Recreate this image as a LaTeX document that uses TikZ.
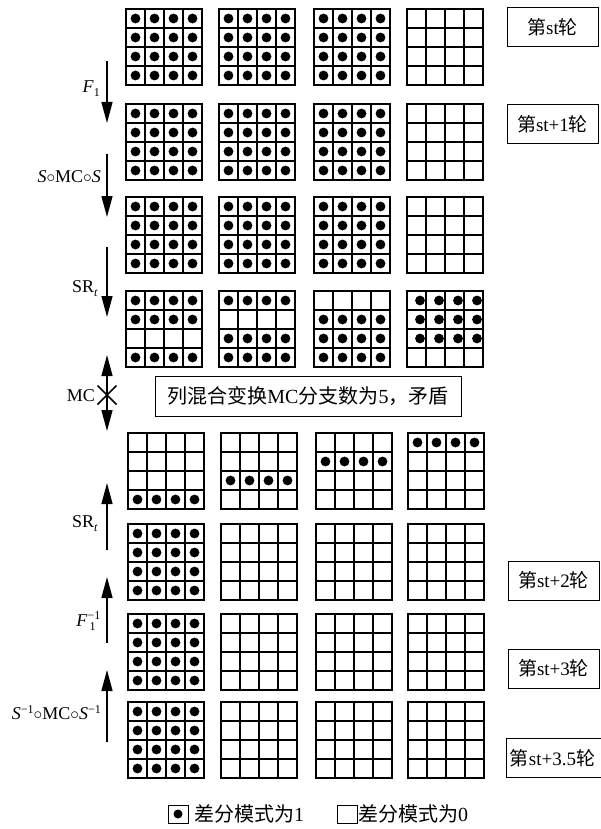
\documentclass[tikz,border=0pt]{standalone}
\usepackage{fontspec}
\setmainfont{Liberation Serif}
\newfontfamily\cjk{Noto Sans CJK SC}
\usetikzlibrary{arrows.meta}
\tikzset{
  cellline/.style={line width=1.6pt},
  lab/.style={draw, line width=1pt, minimum width=91pt, minimum height=39pt, inner sep=0pt, font=\fontsize{19}{21}\selectfont},
  flow/.style={line width=1.4pt, -{Triangle[length=21pt,width=11pt]}},
  txt/.style={font=\fontsize{18}{20}\selectfont, inner sep=0pt},
  bigtxt/.style={font=\fontsize{20}{22}\selectfont, inner sep=0pt},
}
\newcommand\smalltx[1]{\mbox{\fontsize{12}{12}\selectfont #1}}
\newcommand\dgrid[5]{%
  \node[draw, line width=1.6pt, minimum size=76pt, inner sep=0pt] (#1) at (#2+38,#3+38) {};
  \foreach \k in {1,2,3} {
    \draw[cellline] (#2+19*\k,#3) -- (#2+19*\k,#3+76);
    \draw[cellline] (#2,#3+19*\k) -- (#2+76,#3+19*\k);
  }
  \foreach \r in {#4} {
    \ifnum\r>0
      \foreach \c in {1,...,4} { \fill (#2+19*\c-9.5+#5, #3+19*\r-9.5) circle (4.9pt); }
    \fi
  }
}
\begin{document}
\begin{tikzpicture}[x=1pt,y=-1pt]
\useasboundingbox (0,0) rectangle (600,829);
% rows 1-3
\foreach \yy/\nm in {9/a,104/b,197/c} {
  \dgrid{\nm1}{126}{\yy}{1,2,3,4}{0}
  \dgrid{\nm2}{219}{\yy}{1,2,3,4}{0}
  \dgrid{\nm3}{314}{\yy}{1,2,3,4}{0}
  \dgrid{\nm4}{407}{\yy}{0}{0}
}
% row 4
\dgrid{d1}{126}{291}{1,2,4}{0}
\dgrid{d2}{219}{291}{1,3,4}{0}
\dgrid{d3}{314}{291}{2,3,4}{0}
\dgrid{d4}{407}{291}{1,2,3}{3.5}
% row 5
\dgrid{e1}{128}{433}{4}{0}
\dgrid{e2}{221}{433}{3}{0}
\dgrid{e3}{316}{433}{2}{0}
\dgrid{e4}{408}{433}{1}{0}
% rows 6-8
\foreach \yy/\nm in {524/f,614/g,702/h} {
  \dgrid{\nm1}{128}{\yy}{1,2,3,4}{0}
  \dgrid{\nm2}{221}{\yy}{0}{0}
  \dgrid{\nm3}{316}{\yy}{0}{0}
  \dgrid{\nm4}{408}{\yy}{0}{0}
}
% round labels
\node[lab] (r1) at (552.5,27.5) {{\cjk 第}st{\cjk 轮}};
\node[lab] (r2) at (552.5,124) {{\cjk 第}st+1{\cjk 轮}};
\node[lab] (r3) at (553.5,580.5) {{\cjk 第}st+2{\cjk 轮}};
\node[lab] (r4) at (553.5,668.5) {{\cjk 第}st+3{\cjk 轮}};
\node[lab, minimum width=104pt, anchor=west, inner sep=2pt, align=left] (r5) at (506,758) {\hspace{-6pt}{\cjk 第}st+3.5{\cjk 轮}\hspace{6pt}};
% MC box
\node[draw, line width=1pt, minimum width=306pt, minimum height=40pt, inner sep=0pt, font=\fontsize{20}{22}\selectfont] (mc) at (308,396) {{\cjk 列混合变换}MC{\cjk 分支数为}5{\cjk ，矛盾}};
% arrows
\coordinate (p1) at (107,61);  \coordinate (q1) at (107,123);
\coordinate (p2) at (107,154); \coordinate (q2) at (107,217);
\coordinate (p3) at (107,247); \coordinate (q3) at (107,317);
\coordinate (p4) at (107,355); \coordinate (q4) at (107,431); \coordinate (x4) at (107,395);
\coordinate (p5) at (107,550); \coordinate (q5) at (107,483);
\coordinate (p6) at (107,643); \coordinate (q6) at (107,577);
\coordinate (p7) at (107,742); \coordinate (q7) at (107,670);
\draw[flow] (p1) -- (q1);
\draw[flow] (p2) -- (q2);
\draw[flow] (p3) -- (q3);
\draw[line width=1.4pt, {Triangle[length=21pt,width=11pt]}-{Triangle[length=21pt,width=11pt]}] (p4) -- (q4);
\draw[line width=1.5pt] ([shift={(-9.5,-9.5)}]x4) -- ([shift={(9.5,9.5)}]x4) ([shift={(-9.5,9.5)}]x4) -- ([shift={(9.5,-9.5)}]x4);
\draw[flow] (p5) -- (q5);
\draw[flow] (p6) -- (q6);
\draw[flow] (p7) -- (q7);
% arrow labels
\node[txt, anchor=east] (l1) at (100,89) {\textit{F}\raisebox{-4pt}{\fontsize{12}{12}\selectfont 1}};
\node[txt, anchor=east] (l2) at (101,177) {\textit{S}$\circ$MC$\circ$\textit{S}};
\node[txt, anchor=east] (l3) at (98,289) {SR\raisebox{-4pt}{\fontsize{12}{12}\selectfont\textit{t}}};
\node[txt, anchor=east] (l4) at (95,396) {MC};
\node[txt, anchor=east] (l5) at (98,524) {SR\raisebox{-4pt}{\fontsize{12}{12}\selectfont\textit{t}}};
\node[txt, anchor=east] (l6) at (101,621) {$\mbox{\textit{F}}_{\smalltx{\,1}}^{\smalltx{−1}}$};
\node[txt, anchor=east] (l7) at (101,713) {\textit{S}\raisebox{6pt}{\fontsize{12}{12}\selectfont −1}$\circ$MC$\circ$\textit{S}\raisebox{6pt}{\fontsize{12}{12}\selectfont −1}};
% legend
\node[draw, line width=1pt, minimum width=20pt, minimum height=18pt, inner sep=0pt] (k1) at (178,814) {};
\fill (k1.center) circle (4.5pt);
\node[bigtxt, anchor=west] (t1) at (194,814) {{\cjk 差分模式为}1};
\node[draw, line width=1pt, minimum width=20pt, minimum height=18pt, inner sep=0pt] (k2) at (347,814) {};
\node[bigtxt, anchor=west] (t2) at (358,814) {{\cjk 差分模式为}0};
\end{tikzpicture}
\end{document}
